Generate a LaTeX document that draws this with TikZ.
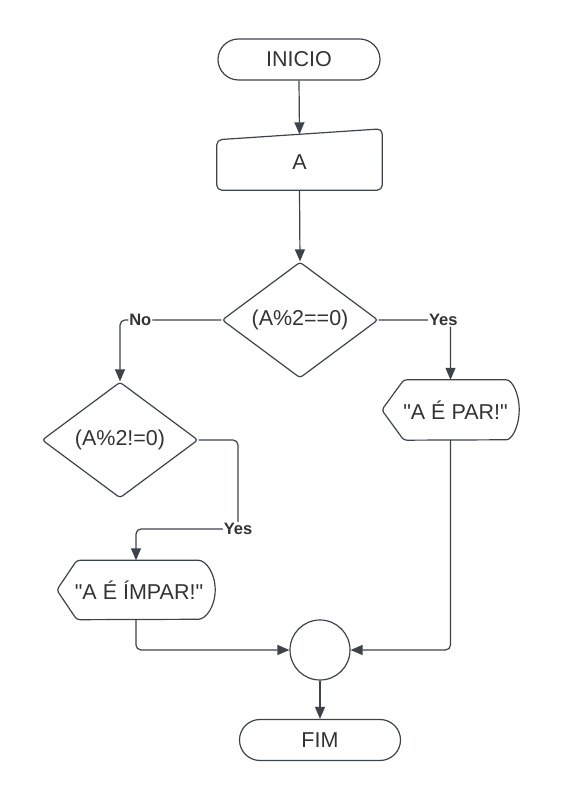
\documentclass[tikz,border=0pt]{standalone}
\usepackage{fontspec}
\setmainfont{Liberation Sans}[Ligatures=TeXOff]
\usetikzlibrary{shapes.geometric,arrows.meta}
\definecolor{ln}{RGB}{62,66,74}
\definecolor{tx}{RGB}{51,51,51}
\begin{document}
\begin{tikzpicture}[x=1pt,y=1pt,
  base/.style={text=tx, font=\fontsize{21.5}{24}\selectfont, inner sep=0pt},
  outl/.style={draw=ln, line width=1.2pt},
  term/.style={base, outl, rectangle, rounded corners=20.5pt, minimum width=162pt, minimum height=41pt},
  dec/.style={base, outl, diamond, aspect=1.345, minimum width=156pt, minimum height=116pt, rounded corners=3pt},
  plain/.style={base, rectangle, draw=none},
  joint/.style={outl, circle, minimum size=60pt, inner sep=0pt},
  conn/.style={draw=ln, line width=1.2pt, -{Triangle[length=12pt,width=10pt]}, rounded corners=5pt},
  lbl/.style={fill=white, text=tx, font=\bfseries\fontsize{16.5}{18}\selectfont, inner sep=1pt}
]
\useasboundingbox (0,0) rectangle (560,800);

% nodes
\node[term] (ini) at (299,740.5) {INICIO};
\node[plain, minimum width=165pt, minimum height=55.5pt] (A) at (299.5,637.75) {A};
\node[dec] (d1) at (300,480) {(A\%2==0)};
\node[dec] (d2) at (120,360) {(A\%2!=0)};
\node[plain, minimum width=137pt, minimum height=60pt] (par) at (450.5,390) {\hspace*{10pt}"A É PAR!"};
\node[plain, minimum width=158pt, minimum height=59pt] (impar) at (136,210) {\hspace*{6pt}"A É ÍMPAR!"};
\node[joint] (j) at (320,150) {};
\node[term, minimum width=161pt] (fim) at (320,60) {FIM};
\coordinate (c1) at (238,271);

% outlines of special shapes
\draw[outl, rounded corners=5pt] (A.south west) -- (A.south east) -- ([yshift=5.5pt]A.north east) -- ([yshift=-5.5pt]A.north west) -- cycle;
\draw[outl, rounded corners=3pt] (par.west) -- ([xshift=22pt]par.north west) -- ([xshift=-16pt]par.north east)
  arc[start angle=90,end angle=-90,x radius=16pt,y radius=30pt] -- ([xshift=22pt]par.south west) -- cycle;
\draw[outl, rounded corners=3pt] (impar.west) -- ([xshift=20pt]impar.north west) -- ([xshift=-20pt]impar.north east)
  arc[start angle=90,end angle=-90,x radius=20pt,y radius=29.5pt] -- ([xshift=20pt]impar.south west) -- cycle;

% connectors
\draw[conn] (ini.south) -- (A.north);
\draw[conn] (A.south) -- (d1.north);
\draw[conn] (d1.west) -| node[lbl,pos=0.4]{No} (d2.north);
\draw[conn] (d1.east) -| node[lbl,pos=0.45]{Yes} (par.north);
\draw[conn] (d2.east) -| (c1) node[lbl]{Yes} -| (impar.north);
\draw[conn] (impar.south) |- (j.west);
\draw[conn] (par.south) |- (j.east);
\draw[conn] (j.south) -- (fim.north);
\end{tikzpicture}
\end{document}
